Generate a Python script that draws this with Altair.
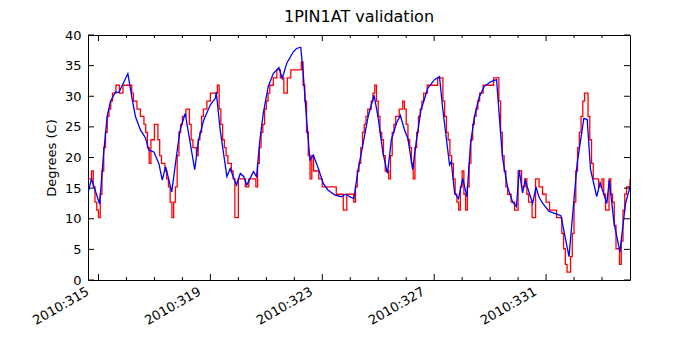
import altair as alt
import pandas as pd

title_text = "1PIN1AT validation"
y_title = "Degrees (C)"
year_prefix = "2010:"

# Red series: quantised telemetry, given as step change points (day of year, deg C)
red_days = [
    314.625, 314.750, 314.8125, 314.875, 314.9375, 315.000, 315.0625, 315.125, 315.1875, 315.250,
    315.3125, 315.375, 315.4375, 315.500, 315.625, 315.750, 315.875, 316.1875, 316.250, 316.375,
    316.500, 316.625, 316.6875, 316.750, 316.8125, 316.875, 317.000, 317.125, 317.1875, 317.250,
    317.375, 317.4375, 317.500, 317.5625, 317.625, 317.6875, 317.750, 317.8125, 317.875, 317.9375,
    318.000, 318.125, 318.250, 318.3125, 318.375, 318.500, 318.5625, 318.625, 318.6875, 318.750,
    318.875, 319.000, 319.250, 319.3125, 319.375, 319.4375, 319.500, 319.5625, 319.625, 319.750,
    319.8125, 319.875, 320.000, 320.250, 320.375, 320.625, 320.6875, 320.750, 320.8125, 320.875,
    320.9375, 321.000, 321.0625, 321.125, 321.250, 321.375, 321.500, 321.625, 321.750, 321.875,
    322.250, 322.3125, 322.375, 322.4375, 322.500, 322.5625, 322.625, 322.6875, 322.875, 323.000,
    323.500, 323.750, 323.875, 324.125, 324.1875, 324.250, 324.3125, 324.375, 324.4375, 324.500,
    324.5625, 324.625, 324.750, 324.8125, 324.875, 324.9375, 325.000, 325.0625, 325.125, 325.1875,
    325.250, 325.375, 325.4375, 325.500, 325.5625, 325.625, 325.750, 325.875, 325.9375, 326.000,
    326.0625, 326.125, 326.1875, 326.250, 326.3125, 326.375, 326.4375, 326.500, 326.5625, 326.625,
    326.750, 327.125, 327.3125, 327.375, 327.4375, 327.500, 327.5625, 327.625, 327.6875, 327.750,
    327.8125, 327.875, 327.9375, 328.000, 328.0625, 328.125, 328.1875, 328.250, 328.3125, 328.375,
    328.4375, 328.500, 328.5625, 328.625, 328.750, 329.125, 329.3125, 329.375, 329.4375, 329.500,
    329.5625, 329.625, 329.750, 329.875, 330.000, 330.125, 330.250, 330.3125, 330.375, 330.500,
    330.625, 330.750, 330.875, 331.000, 331.125, 331.375, 331.5625, 331.625, 331.6875, 331.750,
    331.875, 331.9375, 332.000, 332.0625, 332.125, 332.1875, 332.250, 332.3125, 332.375, 332.500,
    332.5625, 332.625, 332.6875, 332.875, 333.000, 333.0625, 333.125, 333.250, 333.3125, 333.375,
    333.4375, 333.500, 333.625, 333.6875, 333.750, 333.8125, 333.875, 334.000,
]
red_values = [
    16.5, 17.8, 15.2, 12.7, 11.4, 10.2, 14.0, 17.8, 21.6, 24.1,
    26.7, 27.9, 29.2, 30.5, 31.8, 30.5, 31.8, 30.5, 29.2, 27.9,
    26.7, 25.4, 24.1, 21.6, 19.05, 22.9, 25.4, 22.9, 20.3, 19.05,
    17.8, 16.5, 15.2, 12.7, 10.2, 12.7, 15.2, 20.3, 24.1, 25.4,
    26.7, 27.9, 25.4, 22.9, 21.6, 20.3, 22.9, 24.1, 26.7, 27.9,
    29.2, 30.5, 31.8, 27.9, 25.4, 22.9, 21.6, 20.3, 19.05, 17.8,
    16.5, 10.2, 16.5, 15.2, 16.5, 15.2, 19.05, 21.6, 24.1, 25.4,
    27.9, 29.2, 30.5, 31.8, 33.0, 34.3, 33.0, 30.5, 33.0, 34.3,
    35.6, 31.8, 29.2, 24.1, 20.3, 16.5, 20.3, 17.8, 16.5, 15.2,
    14.0, 11.4, 14.0, 12.7, 15.2, 17.8, 19.05, 21.6, 24.1, 25.4,
    26.7, 27.9, 29.2, 30.5, 31.8, 29.2, 26.7, 24.1, 22.9, 20.3,
    17.8, 16.5, 20.3, 24.1, 25.4, 26.7, 27.9, 29.2, 27.9, 25.4,
    22.9, 21.6, 19.05, 16.5, 21.6, 24.1, 26.7, 27.9, 29.2, 30.5,
    31.8, 33.0, 29.2, 26.7, 24.1, 22.9, 20.3, 19.05, 16.5, 14.0,
    12.7, 11.4, 15.2, 17.8, 14.0, 11.4, 15.2, 19.05, 22.9, 25.4,
    26.7, 27.9, 29.2, 30.5, 31.8, 33.0, 29.2, 24.1, 20.3, 17.8,
    15.2, 14.0, 12.7, 11.4, 17.8, 15.2, 16.5, 14.0, 12.7, 10.2,
    16.5, 15.2, 14.0, 12.7, 11.4, 10.2, 7.6, 5.1, 2.54, 1.27,
    3.81, 7.6, 12.7, 17.8, 21.6, 24.1, 26.7, 29.2, 30.5, 26.7,
    22.9, 19.05, 16.5, 15.2, 16.5, 14.0, 11.4, 16.5, 14.0, 12.7,
    8.9, 5.1, 2.54, 6.35, 11.4, 14.0, 15.2, 16.5,
]

# Blue series: model prediction
blue_days = [
    314.64, 314.75, 315.04, 315.18, 315.31, 315.43, 315.61, 315.73, 316.05, 316.21,
    316.32, 316.50, 316.68, 316.80, 316.98, 317.16, 317.28, 317.40, 317.62, 317.80,
    317.92, 318.10, 318.44, 318.58, 318.76, 319.00, 319.18, 319.21, 319.35, 319.59,
    319.71, 319.93, 320.07, 320.19, 320.30, 320.54, 320.65, 320.77, 320.89, 321.07,
    321.25, 321.45, 321.57, 321.73, 321.97, 322.08, 322.23, 322.32, 322.44, 322.56,
    322.68, 322.86, 323.03, 323.20, 323.44, 323.68, 323.84, 323.98, 324.13, 324.28,
    324.46, 324.64, 324.85, 324.99, 325.17, 325.33, 325.47, 325.65, 325.79, 325.94,
    326.06, 326.23, 326.35, 326.53, 326.77, 327.01, 327.19, 327.31, 327.55, 327.61,
    327.73, 327.87, 328.02, 328.17, 328.30, 328.44, 328.61, 328.79, 329.03, 329.23,
    329.32, 329.44, 329.62, 329.80, 329.94, 330.04, 330.16, 330.25, 330.52, 330.64,
    330.75, 330.88, 331.11, 331.35, 331.53, 331.82, 332.11, 332.35, 332.47, 332.59,
    332.81, 332.93, 333.17, 333.26, 333.43, 333.64, 333.84, 334.00,
]
blue_values = [
    14.5, 16.5, 12.4, 20.5, 26.7, 29.2, 30.7, 30.6, 33.7, 29.4,
    26.7, 24.5, 23.2, 21.2, 20.9, 19.0, 16.3, 18.5, 14.4, 20.7,
    24.5, 27.2, 18.0, 22.9, 26.1, 28.6, 29.7, 30.7, 24.5, 16.9,
    18.2, 15.5, 17.4, 16.9, 15.5, 17.7, 16.9, 22.9, 27.2, 31.6,
    33.7, 34.7, 32.9, 35.4, 37.3, 37.8, 38.0, 33.7, 26.1, 19.6,
    20.4, 18.2, 15.8, 14.7, 13.9, 13.6, 14.0, 13.6, 13.3, 18.0,
    22.3, 26.7, 30.2, 26.7, 20.7, 17.4, 22.9, 25.6, 26.9, 24.5,
    23.1, 18.0, 22.3, 27.8, 31.3, 32.7, 33.2, 27.8, 18.8, 19.3,
    14.2, 13.3, 16.6, 13.6, 22.3, 26.7, 29.9, 31.6, 32.4, 32.7,
    27.2, 20.1, 15.2, 12.8, 12.0, 18.0, 14.2, 16.3, 12.5, 15.2,
    13.5, 12.5, 11.2, 10.8, 10.5, 3.8, 19.0, 26.4, 26.2, 18.0,
    13.6, 15.9, 12.5, 16.3, 9.3, 4.6, 12.5, 15.2,
]

x_major = [315, 319, 323, 327, 331]
x_minor = [316, 317, 318, 320, 321, 322, 324, 325, 326, 328, 329, 330, 332, 333]
y_ticks = [0, 5, 10, 15, 20, 25, 30, 35, 40]

W, H = 542, 245
FONT = "DejaVu Sans"

red_df = pd.DataFrame({"day": red_days, "value": red_values})
blue_df = pd.DataFrame({"day": blue_days, "value": blue_values})
xmaj_df = pd.DataFrame({"day": x_major})
xmin_df = pd.DataFrame({"day": x_minor})
ytk_df = pd.DataFrame({"value": y_ticks})

X = alt.X(
    "day:Q",
    scale=alt.Scale(domain=[red_days[0], red_days[-1]], nice=False, zero=False),
    axis=alt.Axis(
        values=x_major,
        labelExpr="'" + year_prefix + "' + datum.value",
        labelAngle=-30,
        labelAlign="right",
        labelBaseline="top",
        labelOffset=-14,
        labelPadding=5,
        labelFlush=False,
        labelOverlap=False,
        labelFontSize=13,
        labelFont=FONT,
        labelColor="black",
        ticks=False,
        domain=False,
        grid=False,
        title=None,
    ),
)
Y = alt.Y(
    "value:Q",
    scale=alt.Scale(domain=[0, 40], nice=False, zero=False),
    axis=alt.Axis(
        values=y_ticks,
        labelPadding=7,
        labelFontSize=13,
        labelFont=FONT,
        labelColor="black",
        ticks=False,
        domain=False,
        grid=False,
        title=y_title,
        titleFont=FONT,
        titleFontSize=13,
        titleFontWeight="normal",
        titleColor="black",
        titlePadding=6,
    ),
)

red = alt.Chart(red_df).mark_line(color="#ff0000", strokeWidth=1.3, interpolate="step-after", clip=True).encode(x=X, y=Y)
blue = alt.Chart(blue_df).mark_line(color="#0000ff", strokeWidth=1.3, clip=True).encode(x=X, y=Y)

tick_color = "black"
xmaj_bot = alt.Chart(xmaj_df).mark_rule(color=tick_color, strokeWidth=1).encode(x=X, y=alt.value(H), y2=alt.value(H - 6))
xmaj_top = alt.Chart(xmaj_df).mark_rule(color=tick_color, strokeWidth=1).encode(x=X, y=alt.value(0), y2=alt.value(6))
xmin_bot = alt.Chart(xmin_df).mark_rule(color=tick_color, strokeWidth=1).encode(x=X, y=alt.value(H), y2=alt.value(H - 3))
xmin_top = alt.Chart(xmin_df).mark_rule(color=tick_color, strokeWidth=1).encode(x=X, y=alt.value(0), y2=alt.value(3))
y_left = alt.Chart(ytk_df).mark_rule(color=tick_color, strokeWidth=1).encode(y=Y, x=alt.value(0), x2=alt.value(6))
y_right = alt.Chart(ytk_df).mark_rule(color=tick_color, strokeWidth=1).encode(y=Y, x=alt.value(W - 6), x2=alt.value(W))

chart = alt.layer(
    red, blue, xmaj_bot, xmaj_top, xmin_bot, xmin_top, y_left, y_right
).properties(
    width=W,
    height=H,
    title=alt.TitleParams(title_text, fontSize=16, font=FONT, fontWeight="normal", color="black", anchor="middle", offset=4),
    autosize=alt.AutoSizeParams(type="none"),
    padding={"left": 80, "top": 27, "right": 62, "bottom": 62},
).configure(
    font=FONT,
).configure_view(
    stroke="black", strokeWidth=1, fill="white"
)

chart.save("out.html", embed_options={"renderer": "svg", "actions": False})
